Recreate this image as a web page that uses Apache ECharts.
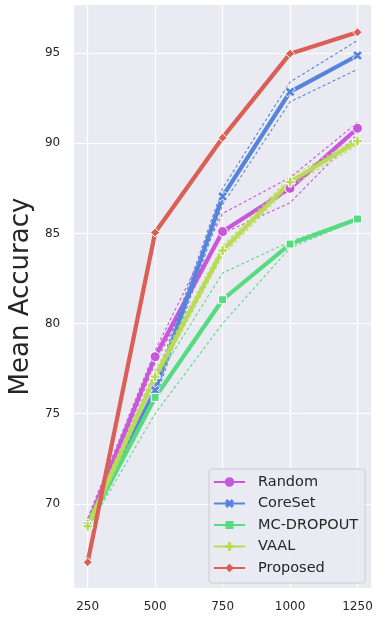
<!DOCTYPE html>
<html>
<head>
<meta charset="utf-8">
<script src="https://cdn.jsdelivr.net/npm/echarts@6/dist/echarts.min.js"></script>
<style>
  html, body { margin: 0; padding: 0; background: #ffffff; }
  #chart { width: 376px; height: 621px; }
</style>
</head>
<body>
<div id="chart"></div>
<script>
// Labelled budget sizes on the x axis
const budgets = [250, 500, 750, 1000, 1250];
const yTicks = [70, 75, 80, 85, 90, 95];

// Mean accuracy per method
const randomMean   = [68.85, 78.16, 85.1, 87.5, 90.83];
const coresetMean  = [68.8, 76.3, 87.05, 92.85, 94.87];
const mcMean       = [68.8, 75.9, 81.32, 84.41, 85.8];
const vaalMean     = [68.76, 77.05, 84.05, 87.85, 90.12];
const proposedMean = [66.76, 85.05, 90.31, 94.97, 96.16];

// Spread (upper / lower) per method, drawn as dotted lines
const randomUpper  = [69.2, 78.5, 86.1, 88.1, 91.15];
const randomLower  = [68.6, 77.8, 85.0, 86.7, 90.5];
const coresetUpper = [69.0, 76.8, 87.5, 93.4, 95.7];
const coresetLower = [68.6, 75.8, 86.6, 92.3, 94.1];
const mcUpper      = [69.1, 76.8, 82.8, 84.55, 85.85];
const mcLower      = [68.6, 75.0, 80.0, 84.2, 85.75];
const vaalUpper    = [69.0, 77.4, 84.3, 88.1, 90.3];
const vaalLower    = [68.5, 76.8, 83.8, 87.6, 89.9];

const FONT = 'DejaVu Sans';
const TEXT = '#262626';

// Plot markers
const plusPath = 'path://M-1,-3H1V-1H3V1H1V3H-1V1H-3V-1H-1Z';
const xPath = 'path://M2,-4L4,-2L2,0L4,2L2,4L0,2L-2,4L-4,2L-2,0L-4,-2L-2,-4L0,-2Z';

// Legend keys: a short line with the marker in its middle (31 x 10 box)
const keyFrame = 'M0,0M31,10';
const keyLine = 'M0,3.9H31V6.1H0Z';
const legendIcons = {
  circle:  'path://' + keyFrame + keyLine + 'M10.7,5A4.8,4.8,0,1,1,20.3,5A4.8,4.8,0,1,1,10.7,5Z',
  x:       'path://' + keyFrame + keyLine + 'M17.75,0.5L20,2.75L17.75,5L20,7.25L17.75,9.5L15.5,7.25L13.25,9.5L11,7.25L13.25,5L11,2.75L13.25,0.5L15.5,2.75Z',
  square:  'path://' + keyFrame + keyLine + 'M11.5,1H19.5V9H11.5Z',
  plus:    'path://' + keyFrame + keyLine + 'M14,0.5H17V3.5H20V6.5H17V9.5H14V6.5H11V3.5H14Z',
  diamond: 'path://' + keyFrame + keyLine + 'M15.5,0.7L19.8,5L15.5,9.3L11.2,5Z'
};

const methods = [
  { name: 'Random',     color: '#c957db', mean: randomMean,   upper: randomUpper,  lower: randomLower,  symbol: 'circle',  size: 10, key: legendIcons.circle },
  { name: 'CoreSet',    color: '#5784db', mean: coresetMean,  upper: coresetUpper, lower: coresetLower, symbol: xPath,     size: 10, key: legendIcons.x },
  { name: 'MC-DROPOUT', color: '#57db80', mean: mcMean,       upper: mcUpper,      lower: mcLower,      symbol: 'rect',    size: 8,  key: legendIcons.square },
  { name: 'VAAL',       color: '#b9db57', mean: vaalMean,     upper: vaalUpper,    lower: vaalLower,    symbol: plusPath,  size: 10, key: legendIcons.plus },
  { name: 'Proposed',   color: '#db5f57', mean: proposedMean, upper: null,         lower: null,         symbol: 'diamond', size: 9,  key: legendIcons.diamond }
];

const pairs = arr => budgets.map((b, i) => [b, arr[i]]);

const series = [];
methods.forEach(m => {
  [m.upper, m.lower].forEach((band, k) => {
    if (!band) return;
    series.push({
      name: m.name + (k === 0 ? ' upper' : ' lower'),
      type: 'line',
      data: pairs(band),
      symbol: 'none',
      silent: true,
      lineStyle: { color: m.color, width: 1.1, type: [3, 2.5] }
    });
  });
  series.push({
    name: m.name,
    type: 'line',
    data: pairs(m.mean),
    symbol: m.symbol,
    symbolSize: m.size,
    showAllSymbol: true,
    itemStyle: { color: m.color, borderColor: '#ffffff', borderWidth: 1 },
    lineStyle: { color: m.color, width: 4.2, type: 'solid' },
    emphasis: { disabled: true }
  });
});

const chart = echarts.init(document.getElementById('chart'), null, { renderer: 'canvas' });
chart.setOption({
  animation: false,
  backgroundColor: '#ffffff',
  textStyle: { fontFamily: FONT },
  grid: { left: 73, right: 5, top: 5, bottom: 33, show: true, backgroundColor: '#eaeaf2', borderWidth: 0 },
  xAxis: {
    type: 'value',
    min: 200,
    max: 1300,
    axisLine: { show: false },
    axisTick: { show: false, customValues: budgets },
    axisLabel: { customValues: budgets, formatter: v => String(v), color: TEXT, fontSize: 12, fontFamily: FONT, margin: 13 },
    splitLine: { show: true, lineStyle: { color: '#ffffff', width: 1.2 } }
  },
  yAxis: {
    type: 'value',
    min: 65.33,
    max: 97.67,
    name: 'Mean Accuracy',
    nameLocation: 'middle',
    nameGap: 36,
    nameTextStyle: { color: TEXT, fontSize: 26, fontFamily: FONT },
    axisLine: { show: false },
    axisTick: { show: false, customValues: yTicks },
    axisLabel: { customValues: yTicks, formatter: v => String(v), color: TEXT, fontSize: 12, fontFamily: FONT, margin: 14 },
    splitLine: { show: true, lineStyle: { color: '#ffffff', width: 1.2 } }
  },
  legend: {
    data: methods.map(m => ({ name: m.name, icon: m.key, itemStyle: { color: m.color, borderWidth: 0 } })),
    orient: 'vertical',
    left: 209,
    top: 469,
    padding: [5, 7, 7, 5],
    itemWidth: 31,
    itemHeight: 10,
    itemGap: 5.5,
    symbolKeepAspect: true,
    backgroundColor: 'rgba(234,234,242,0.85)',
    borderColor: '#cccccc',
    borderWidth: 1,
    borderRadius: 3,
    textStyle: { color: TEXT, fontSize: 14.5, fontFamily: FONT, lineHeight: 16, padding: [0, 0, 0, 8] }
  },
  series: series
});
</script>
</body>
</html>
